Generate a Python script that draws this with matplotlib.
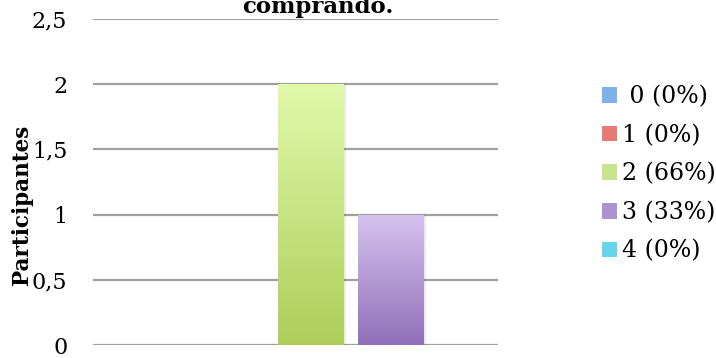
import numpy as np
import matplotlib
matplotlib.use("Agg")
import matplotlib.pyplot as plt
from matplotlib.patches import Patch
from matplotlib.colors import LinearSegmentedColormap

series_labels = [" 0 (0%)", "1 (0%)", "2 (66%)", "3 (33%)", "4 (0%)"]
values = [0, 0, 2, 1, 0]
yticks = [0, 0.5, 1, 1.5, 2, 2.5]
ytick_labels = ["0", "0,5", "1", "1,5", "2", "2,5"]
title = "comprando."
ylabel = "Participantes"

top_colors = ["#a9cdf5", "#f5a8a3", "#e1f9aa", "#d5c3ee", "#a6eefa"]
bot_colors = ["#5b93d8", "#d9534c", "#aecd5a", "#916fb9", "#3cc0dc"]
legend_colors = ["#7fb0ea", "#e77a73", "#c8e48c", "#ab93d2", "#66d4ea"]

fig = plt.figure(figsize=(7.16, 3.58), dpi=100)
ax = fig.add_axes([93/716, 1-345/358, 405/716, 326/358])

width = 0.82
xs = np.arange(len(values))
bars = ax.bar(xs, values, width=width, color="none", zorder=3)
grad = np.linspace(0, 1, 256).reshape(-1, 1)
for i, b in enumerate(bars):
    if values[i] <= 0:
        continue
    cmap = LinearSegmentedColormap.from_list("g", [bot_colors[i], top_colors[i]])
    x0, y0 = b.get_x(), b.get_y()
    w, h = b.get_width(), b.get_height()
    ax.bar(xs[i] + 0.03, values[i], width=width, color="#000000", alpha=0.08, zorder=2)
    im = ax.imshow(grad, cmap=cmap, origin="lower", aspect="auto",
                   extent=[x0, x0 + w, y0, y0 + h], zorder=3)
    im.set_clip_path(b)

ax.set_xlim(-0.72, 4.34)
ax.set_ylim(0, 2.5)
ax.set_yticks(yticks)
ax.set_yticklabels(ytick_labels, fontfamily="DejaVu Serif", fontsize=16)
ax.tick_params(axis="y", length=0, pad=18.5)
ax.set_xticks([])
for s in ax.spines.values():
    s.set_visible(False)
ax.grid(axis="y", color="#a0a0a0", linewidth=1.6, zorder=1)
ax.set_axisbelow(True)

fig.text(22/716, 1-205/358, ylabel, rotation=90, ha="center", va="center",
         fontfamily="DejaVu Serif", fontweight="bold", fontsize=15.5)
fig.text(318/716, 1-13/358, title, ha="center", va="baseline",
         fontfamily="DejaVu Serif", fontweight="bold", fontsize=16.5)

handles = [Patch(facecolor=c, edgecolor="none") for c in legend_colors]
fig.legend(handles, series_labels, loc="center left",
           bbox_to_anchor=(602/716, 1-174/358), frameon=False,
           prop={"family": "DejaVu Serif", "size": 17},
           handlelength=0.64, handleheight=0.64, handletextpad=0.22,
           labelspacing=0.66, borderpad=0, borderaxespad=0)

fig.savefig("out.png", dpi=100)
